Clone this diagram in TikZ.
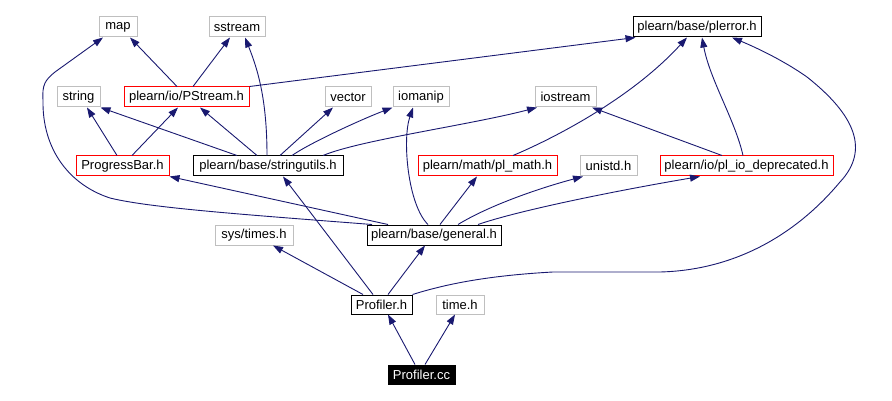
\documentclass[tikz,border=0pt]{standalone}
\usepackage{fontspec}
\setmainfont{Liberation Sans}
\usetikzlibrary{arrows.meta}
\definecolor{edgec}{HTML}{191970}
\definecolor{grayb}{HTML}{BFBFBF}
\begin{document}
\begin{tikzpicture}[x=1pt,y=-1pt,
  box/.style={draw, minimum height=20pt, inner sep=0pt, font=\fontsize{13}{15}\selectfont, line width=1pt},
  gbox/.style={box, draw=grayb},
  rbox/.style={box, draw=red},
  kbox/.style={box, draw=black},
  edge/.style={draw=edgec, line width=0.9pt, -{Triangle[length=10pt,width=7pt]}}]
\useasboundingbox (0,0) rectangle (892,401);
% row 1
\node[gbox, minimum width=38pt] (map) at (118,27) {map};
\node[gbox, minimum width=56pt] (ss) at (237,27) {sstream};
\node[kbox, minimum width=128pt] (pe) at (697,27) {plearn/base/plerror.h};
% row 2
\node[gbox, minimum width=43pt] (str) at (78.5,97) {string};
\node[rbox, minimum width=125pt] (ps) at (186.5,97) {plearn/io/PStream.h};
\node[gbox, minimum width=46pt] (vec) at (348,97) {vector};
\node[gbox, minimum width=56pt] (iom) at (421,97) {iomanip};
\node[gbox, minimum width=61pt] (ios) at (565.5,97) {iostream};
% row 3
\node[rbox, minimum width=93pt] (pb) at (122.5,166) {ProgressBar.h};
\node[kbox, minimum width=150pt] (su) at (268,166) {plearn/base/stringutils.h};
\node[rbox, minimum width=139pt] (pm) at (487.5,166) {plearn/math/pl\_math.h};
\node[gbox, minimum width=57pt] (un) at (608.5,166) {unistd.h};
\node[rbox, minimum width=173pt] (pd) at (746.5,166) {plearn/io/pl\_io\_deprecated.h};
% row 4
\node[gbox, minimum width=78pt] (st) at (254,235) {sys/times.h};
\node[kbox, minimum width=134pt] (gen) at (434,235) {plearn/base/general.h};
% row 5
\node[kbox, minimum width=61pt, minimum height=19pt] (ph) at (381.5,304.5) {Profiler.h};
\node[gbox, minimum width=48pt, minimum height=19pt] (th) at (460,304.5) {time.h};
% row 6
\node[box, draw=black, fill=black, text=white, minimum width=67pt, minimum height=19pt] (cc) at (421.5,374.5) {Profiler.cc};

% edges
\draw[edge] ([xshift=-6.5pt]cc.north) -- ([xshift=6.5pt]ph.south);
\draw[edge] ([xshift=3.5pt]cc.north) -- ([xshift=-5pt]th.south);
\draw[edge] ([xshift=-18.5pt]ph.north) -- ([xshift=19pt]st.south);
\draw[edge] ([xshift=6.5pt]ph.north) -- ([xshift=-9pt]gen.south);
\draw[edge] ([xshift=-8.5pt]ph.north) -- ([xshift=15pt]su.south);
\draw[edge] (ph.north east) .. controls (440,286) and (480,276) .. (553,272) -- (660,272)
  .. controls (740,270) and (800,230) .. (840,182)
  .. controls (870,150) and (855,115) .. (807,77)
  .. controls (780,58) and (750,45) .. ([xshift=35pt]pe.south);
\draw[edge] ([xshift=-62pt]gen.north) .. controls (250,215) and (150,208) .. (110,198)
  .. controls (70,185) and (42,150) .. (43,100)
  .. controls (42,85) and (45,80) .. (55,72) -- ([xshift=-15pt]map.south);
\draw[edge] ([xshift=-46pt]gen.north) -- (pb.south east);
\draw[edge] ([xshift=6pt]gen.north) -- ([xshift=-10.5pt]pm.south);
\draw[edge] ([xshift=24pt]gen.north) .. controls (490,205) and (540,188) .. ([xshift=-25.5pt]un.south);
\draw[edge] ([xshift=44pt]gen.north) .. controls (520,210) and (620,190) .. ([xshift=-46.5pt]pd.south);
\draw[edge] ([xshift=-6pt]gen.north) .. controls (408,205) and (402,140) .. ([xshift=-8pt]iom.south);
\draw[edge] ([xshift=-31pt]su.north) -- (str.south east);
\draw[edge] ([xshift=-11pt]su.north) -- ([xshift=13.5pt]ps.south);
\draw[edge] ([xshift=-1pt]su.north) .. controls (267,100) and (258,70) .. ([xshift=8pt]ss.south);
\draw[edge] ([xshift=12pt]su.north) -- ([xshift=-15pt]vec.south);
\draw[edge] ([xshift=24pt]su.north) .. controls (310,143) and (360,120) .. (iom.south west);
\draw[edge] ([xshift=55pt]su.north) .. controls (360,140) and (470,125) .. ([xshift=-28.5pt]ios.south);
\draw[edge] ([xshift=-5.5pt]pb.north) -- ([xshift=8.5pt]str.south);
\draw[edge] ([xshift=9.5pt]pb.north) -- ([xshift=-8.5pt]ps.south);
\draw[edge] ([xshift=-9.5pt]ps.north) -- ([xshift=12pt]map.south);
\draw[edge] ([xshift=6.5pt]ps.north) -- ([xshift=-7pt]ss.south);
\draw[edge] (ps.north east) -- ([xshift=3pt]pe.south west);
\draw[edge] ([xshift=25.5pt]pm.north) .. controls (550,140) and (630,100) .. ([xshift=-10pt]pe.south);
\draw[edge] ([xshift=-24.5pt]pd.north) -- ([xshift=26.5pt]ios.south);
\draw[edge] ([xshift=-3.5pt]pd.north) .. controls (735,120) and (710,80) .. ([xshift=5pt]pe.south);
\end{tikzpicture}
\end{document}
